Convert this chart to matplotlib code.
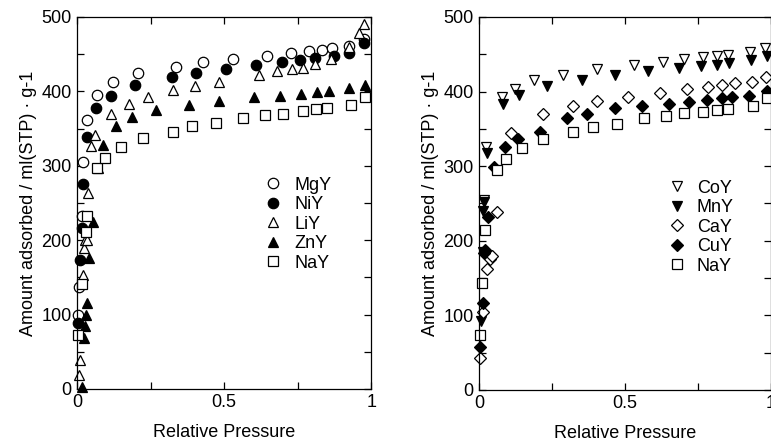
import matplotlib
matplotlib.use('Agg')
import matplotlib.pyplot as plt
from matplotlib.ticker import MultipleLocator

plt.rcParams['font.family'] = ['Liberation Sans', 'DejaVu Sans']

# left panel
mgy_x = [0.004, 0.008, 0.016, 0.021, 0.035, 0.069, 0.121, 0.209, 0.337, 0.427,
         0.530, 0.647, 0.728, 0.790, 0.832, 0.866, 0.926, 0.976]
mgy_y = [99, 137, 232, 305, 361, 395, 412, 424, 433, 439,
         443, 448, 452, 454, 456, 458, 461, 470]
niy_x = [0.004, 0.010, 0.016, 0.021, 0.035, 0.065, 0.115, 0.197, 0.322, 0.405,
         0.507, 0.609, 0.696, 0.759, 0.810, 0.874, 0.923, 0.976]
niy_y = [89, 173, 216, 276, 339, 378, 394, 408, 419, 425,
         430, 435, 439, 442, 445, 448, 452, 465]
liy_x = [0.008, 0.010, 0.021, 0.024, 0.027, 0.033, 0.038, 0.047, 0.061, 0.115,
         0.178, 0.243, 0.325, 0.401, 0.481, 0.620, 0.681, 0.730, 0.768, 0.810,
         0.863, 0.923, 0.957, 0.976]
liy_y = [19, 39, 153, 189, 200, 200, 263, 327, 341, 370,
         383, 392, 402, 407, 413, 422, 427, 430, 432, 437,
         444, 460, 479, 491]
zny_x = [0.016, 0.024, 0.027, 0.029, 0.033, 0.042, 0.055, 0.073, 0.087, 0.133,
         0.186, 0.269, 0.379, 0.484, 0.600, 0.690, 0.761, 0.815, 0.858, 0.923,
         0.980]
zny_y = [3, 68, 84, 99, 116, 176, 225, 297, 328, 353,
         365, 375, 382, 387, 392, 394, 396, 399, 400, 404,
         409]
nay1_x = [0.004, 0.016, 0.031, 0.033, 0.067, 0.095, 0.149, 0.223, 0.328, 0.390,
          0.473, 0.564, 0.639, 0.700, 0.768, 0.813, 0.849, 0.931, 0.980]
nay1_y = [73, 141, 211, 232, 297, 311, 325, 337, 346, 353,
          358, 364, 368, 370, 373, 376, 378, 382, 393]

# right panel
coy_x = [0.018, 0.024, 0.078, 0.123, 0.189, 0.287, 0.405, 0.531, 0.629, 0.703,
         0.768, 0.816, 0.854, 0.928, 0.979]
coy_y = [255, 325, 393, 404, 415, 422, 430, 436, 440, 443,
         446, 448, 449, 453, 458]
mny_x = [0.006, 0.013, 0.015, 0.017, 0.026, 0.081, 0.138, 0.234, 0.352, 0.466,
         0.580, 0.686, 0.759, 0.814, 0.857, 0.930, 0.987]
mny_y = [92, 185, 240, 252, 318, 383, 395, 407, 416, 422,
         428, 431, 434, 436, 438, 442, 447]
cay_x = [0.003, 0.013, 0.026, 0.039, 0.043, 0.062, 0.108, 0.218, 0.321, 0.405,
         0.511, 0.620, 0.711, 0.785, 0.831, 0.877, 0.934, 0.983]
cay_y = [42, 104, 162, 176, 179, 239, 344, 370, 381, 387,
         393, 398, 403, 406, 409, 411, 413, 419]
cuy_x = [0.003, 0.015, 0.016, 0.021, 0.031, 0.051, 0.089, 0.135, 0.209, 0.300,
         0.371, 0.466, 0.557, 0.652, 0.720, 0.780, 0.831, 0.865, 0.926, 0.985]
cuy_y = [58, 117, 183, 188, 232, 299, 326, 336, 346, 364,
         370, 378, 381, 383, 386, 389, 391, 392, 394, 401]
nay2_x = [0.003, 0.009, 0.022, 0.063, 0.092, 0.146, 0.220, 0.323, 0.389, 0.474,
          0.565, 0.640, 0.702, 0.768, 0.814, 0.854, 0.937, 0.985]
nay2_y = [74, 143, 214, 295, 310, 324, 336, 346, 353, 357,
          364, 367, 371, 373, 375, 377, 381, 391]

left_series = [
    ('MgY', mgy_x, mgy_y, 'o', 'white'),
    ('NiY', niy_x, niy_y, 'o', 'black'),
    ('LiY', liy_x, liy_y, '^', 'white'),
    ('ZnY', zny_x, zny_y, '^', 'black'),
    ('NaY', nay1_x, nay1_y, 's', 'white'),
]
right_series = [
    ('CoY', coy_x, coy_y, 'v', 'white'),
    ('MnY', mny_x, mny_y, 'v', 'black'),
    ('CaY', cay_x, cay_y, 'D', 'white'),
    ('CuY', cuy_x, cuy_y, 'D', 'black'),
    ('NaY', nay2_x, nay2_y, 's', 'white'),
]

YLABEL = 'Amount adsorbed / ml(STP) · g-1'


def _draw_panel(ax, series, legend_anchor, text_pad):
    for name, xs, ys, marker, face in series:
        size = 6.2 if marker == 'D' else 7.5
        ax.plot(xs, ys, linestyle='none', marker=marker, markersize=size,
                markerfacecolor=face, markeredgecolor='black',
                markeredgewidth=0.9, label=name, clip_on=False)
    ax.set_xlim(0, 1)
    ax.set_ylim(0, 500)
    ax.xaxis.set_major_locator(MultipleLocator(0.5))
    ax.xaxis.set_minor_locator(MultipleLocator(0.25))
    ax.yaxis.set_major_locator(MultipleLocator(100))
    ax.yaxis.set_minor_locator(MultipleLocator(50))
    ax.xaxis.set_major_formatter(plt.FuncFormatter(lambda v, p: f'{v:g}'))
    ax.tick_params(which='both', direction='in', top=True, right=True,
                   labelsize=13, width=0.9, pad=4)
    ax.tick_params(which='major', length=5)
    ax.tick_params(which='minor', length=5)
    for sp in ax.spines.values():
        sp.set_linewidth(0.9)
    ax.set_xlabel('Relative Pressure', fontsize=13, labelpad=9)
    ax.set_ylabel(YLABEL, fontsize=13, labelpad=3)
    ax.legend(loc='upper left', bbox_to_anchor=legend_anchor, frameon=False,
              fontsize=13, labelspacing=0.14, handletextpad=text_pad,
              handlelength=1.0, borderpad=0, borderaxespad=0)


fig = plt.figure(figsize=(7.71, 4.46), dpi=100)
ax1 = fig.add_axes([0.0999, 0.128, 0.3815, 0.834])
ax2 = fig.add_axes([0.6213, 0.126, 0.3787, 0.836])

_draw_panel(ax1, left_series, (0.636, 0.571), 0.7)
_draw_panel(ax2, right_series, (0.647, 0.564), 0.6)

fig.savefig('out.png', dpi=100)
